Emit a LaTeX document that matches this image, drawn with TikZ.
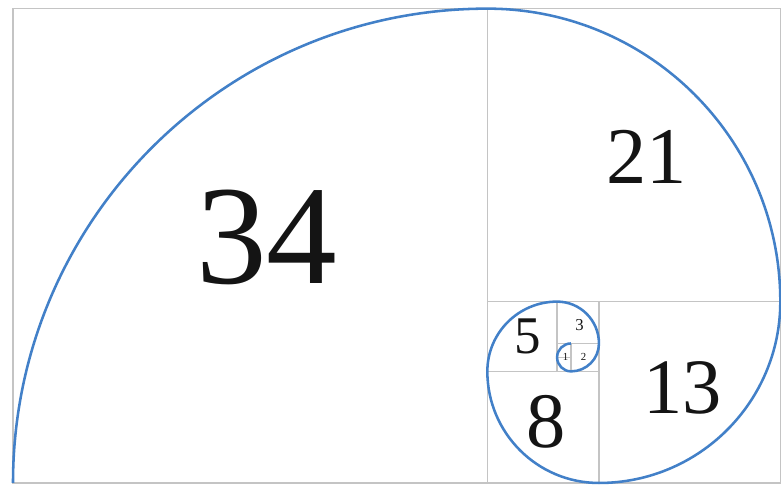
\documentclass[tikz,border=0pt]{standalone}
\usepackage{fontspec}
\setmainfont{Liberation Serif}
\usepackage{tikz}
\usetikzlibrary{calc}
\definecolor{mygrey}{RGB}{196,196,196}
\definecolor{myblue}{RGB}{66,128,200}
\definecolor{mydark}{RGB}{20,20,20}
\tikzset{
  square/.style={draw=mygrey, line width=0.8pt},
  spiral/.style={draw=myblue, line width=1.3pt},
  numlabel/.style={inner sep=0pt, text=mydark}
}

\begin{document}
\begin{tikzpicture}[x=0.25cm, y=0.25cm]
  \useasboundingbox (-0.932,-0.86) rectangle (55.05,34.62);

  % ── squares (side lengths 34, 21, 13, 8, 5, 3, 2, 1, 1) ──
  \draw[square] (0,0)   rectangle (34,34);
  \draw[square] (34,13) rectangle (55,34);
  \draw[square] (42,0)  rectangle (55,13);
  \draw[square] (34,0)  rectangle (42,8);
  \draw[square] (34,8)  rectangle (39,13);
  \draw[square] (39,10) rectangle (42,13);
  \draw[square] (40,8)  rectangle (42,10);
  \draw[square] (39,8)  rectangle (40,9);
  \draw[square] (39,9)  rectangle (40,10);

  % ── golden spiral, one quarter arc per square ──
  \draw[spiral] (0,0)
    arc[start angle=180, end angle=90,  radius=34]
    arc[start angle=90,  end angle=0,   radius=21]
    arc[start angle=0,   end angle=-90, radius=13]
    arc[start angle=270, end angle=180, radius=8]
    arc[start angle=180, end angle=90,  radius=5]
    arc[start angle=90,  end angle=0,   radius=3]
    arc[start angle=0,   end angle=-90, radius=2]
    arc[start angle=270, end angle=180, radius=1]
    arc[start angle=180, end angle=90,  radius=1];

  % ── numbers ──
  \node[numlabel, font=\fontsize{72}{72}\selectfont] (n34) at (18.2,17.6) {34};
  \node[numlabel, font=\fontsize{41}{41}\selectfont] (n21) at (45.4,23.4) {21};
  \node[numlabel, font=\fontsize{40}{40}\selectfont] (n13) at (48.0,6.8) {13};
  \node[numlabel, font=\fontsize{40}{40}\selectfont] (n8) at (38.2,4.4) {8};
  \node[numlabel, font=\fontsize{27}{27}\selectfont] (n5) at (36.9,10.5) {5};
  \node[numlabel, font=\fontsize{8.5}{8.5}\selectfont] (n3) at (40.6,11.3) {3};
  \node[numlabel, font=\fontsize{5.5}{5.5}\selectfont] (n1) at (39.6,9.0) {1};
  \node[numlabel, font=\fontsize{5.5}{5.5}\selectfont] (n2) at (40.9,9.0) {2};
\end{tikzpicture}
\end{document}
